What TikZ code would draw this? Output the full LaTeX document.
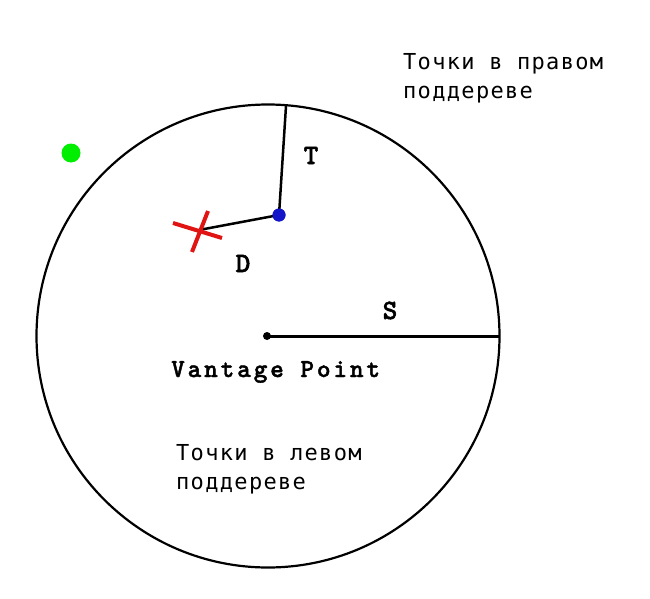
\documentclass[tikz,border=0pt]{standalone}
\usepackage{fontspec}
\newfontfamily\cyrmono[LetterSpace=6]{DejaVu Sans Mono}
\newfontfamily\labmono[LetterSpace=11,FakeBold=1.6]{lmmonolt10-bold.otf}
\newfontfamily\labmonosingle[FakeBold=1.8]{lmmonolt10-bold.otf}
\definecolor{ptblue}{RGB}{20,20,200}
\definecolor{ptgreen}{RGB}{0,238,0}
\definecolor{ptred}{RGB}{225,20,20}
\begin{document}
\begin{tikzpicture}[x=1pt,y=-1pt,
  lab/.style={font=\labmonosingle\fontsize{28}{30}\selectfont, inner sep=0pt},
  vplab/.style={font=\labmono\fontsize{26}{30}\selectfont, inner sep=0pt},
  cyr/.style={font=\cyrmono\fontsize{22}{29}\selectfont, inner sep=0pt, anchor=base west, align=left},
  seg/.style={line width=2.5pt, black},
  dotnode/.style={circle, inner sep=0pt, draw=none}]
\useasboundingbox (0,0) rectangle (650,599);
\node[circle, draw, line width=2.2pt, minimum size=463pt, inner sep=0pt] (ball) at (268,336) {};
\node[dotnode, fill=black, minimum size=8pt] (vp) at (267,336) {};
\node[dotnode, fill=ptblue, minimum size=13pt] (q) at (279,215) {};
\node[dotnode, fill=ptgreen, minimum size=19pt] (g) at (71,153) {};
\coordinate (x) at (199,230);
\coordinate (ttop) at (286,106);
\coordinate (sedge) at (500,336);
\draw[line width=3pt] (vp.center) -- (sedge);
\draw[seg] (q.center) -- (ttop);
\draw[seg] (q.center) -- (x);
\draw[ptred, line width=4pt] (173,223) -- (222,238);
\draw[ptred, line width=4pt] (208,211) -- (192,252);
\node[dotnode, fill=ptblue, minimum size=13pt] at (q) {};
\node[lab, anchor=base] (tl) at (311,164) {T};
\node[lab, anchor=base] (dl) at (243,272) {D};
\node[lab, anchor=base] (sl) at (390,319) {S};
\node[vplab, anchor=base west] (vpl) at (171,377) {Vantage Point};
\node[cyr] (rt) at (403,99) {Точки в правом\\поддереве};
\node[cyr] (lt) at (176,489) {Точки в левом\\поддереве};
\end{tikzpicture}
\end{document}
